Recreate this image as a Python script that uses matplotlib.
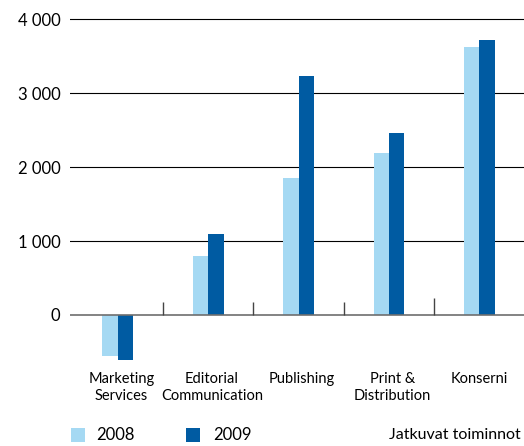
import matplotlib.pyplot as plt
from matplotlib.patches import Rectangle

plt.rcParams['font.family'] = ['Lato', 'DejaVu Sans']

# Data
categories = ['Marketing\nServices', 'Editorial\nCommunication', 'Publishing',
              'Print &\nDistribution', 'Konserni']
values_2008 = [-560, 800, 1850, 2190, 3620]
values_2009 = [-610, 1090, 3230, 2460, 3720]
y_ticks = [0, 1000, 2000, 3000, 4000]
y_tick_labels = ['0', '1 000', '2 000', '3 000', '4 000']

light = '#A5D9F3'
dark = '#005BA2'

fig = plt.figure(figsize=(5.24, 4.46), dpi=100)
ax = fig.add_axes([0.1336, 0.1695, 0.8664, 0.8036])

x = list(range(len(categories)))
w = 0.17
ax.bar([i - w for i in x], values_2008, width=w, align='edge', color=light, zorder=2)
ax.bar(x, values_2009, width=w, align='edge', color=dark, zorder=2)

# grid lines and zero line
for t in y_ticks[1:]:
    ax.axhline(t, color='black', lw=0.8, zorder=1)
ax.axhline(0, color='#6e6e6e', lw=1.2, zorder=3)

# small separators between groups
sep_heights = [180, 180, 180, 230]
ax.vlines([i + 0.5 for i in x[:-1]], 0, sep_heights, color='#444444', lw=1.0, zorder=3)

ax.set_xlim(-0.529, 4.495)
ax.set_ylim(-750, 4100)
ax.set_yticks(y_ticks)
ax.set_yticklabels(y_tick_labels, fontsize=12)
ax.set_xticks([i + 0.04 if i < 4 else i for i in x])
ax.set_xticklabels(categories, fontsize=10.5, linespacing=1.25, va='top')
ax.tick_params(axis='both', length=0)
ax.tick_params(axis='y', pad=7)
ax.tick_params(axis='x', pad=1)
for s in ax.spines.values():
    s.set_visible(False)

# legend
fig.add_artist(Rectangle((0.1349, 0.0096), 0.0267, 0.0314, transform=fig.transFigure,
                         color=light, lw=0))
fig.add_artist(Rectangle((0.3544, 0.0096), 0.0267, 0.0314, transform=fig.transFigure,
                         color=dark, lw=0))
fig.text(0.1845, 0.0247, '2008', fontsize=12, va='center', ha='left')
fig.text(0.4065, 0.0247, '2009', fontsize=12, va='center', ha='left')
fig.text(0.994, 0.0247, 'Jatkuvat toiminnot', fontsize=11.5, va='center', ha='right')

fig.savefig('out.png', dpi=100)
